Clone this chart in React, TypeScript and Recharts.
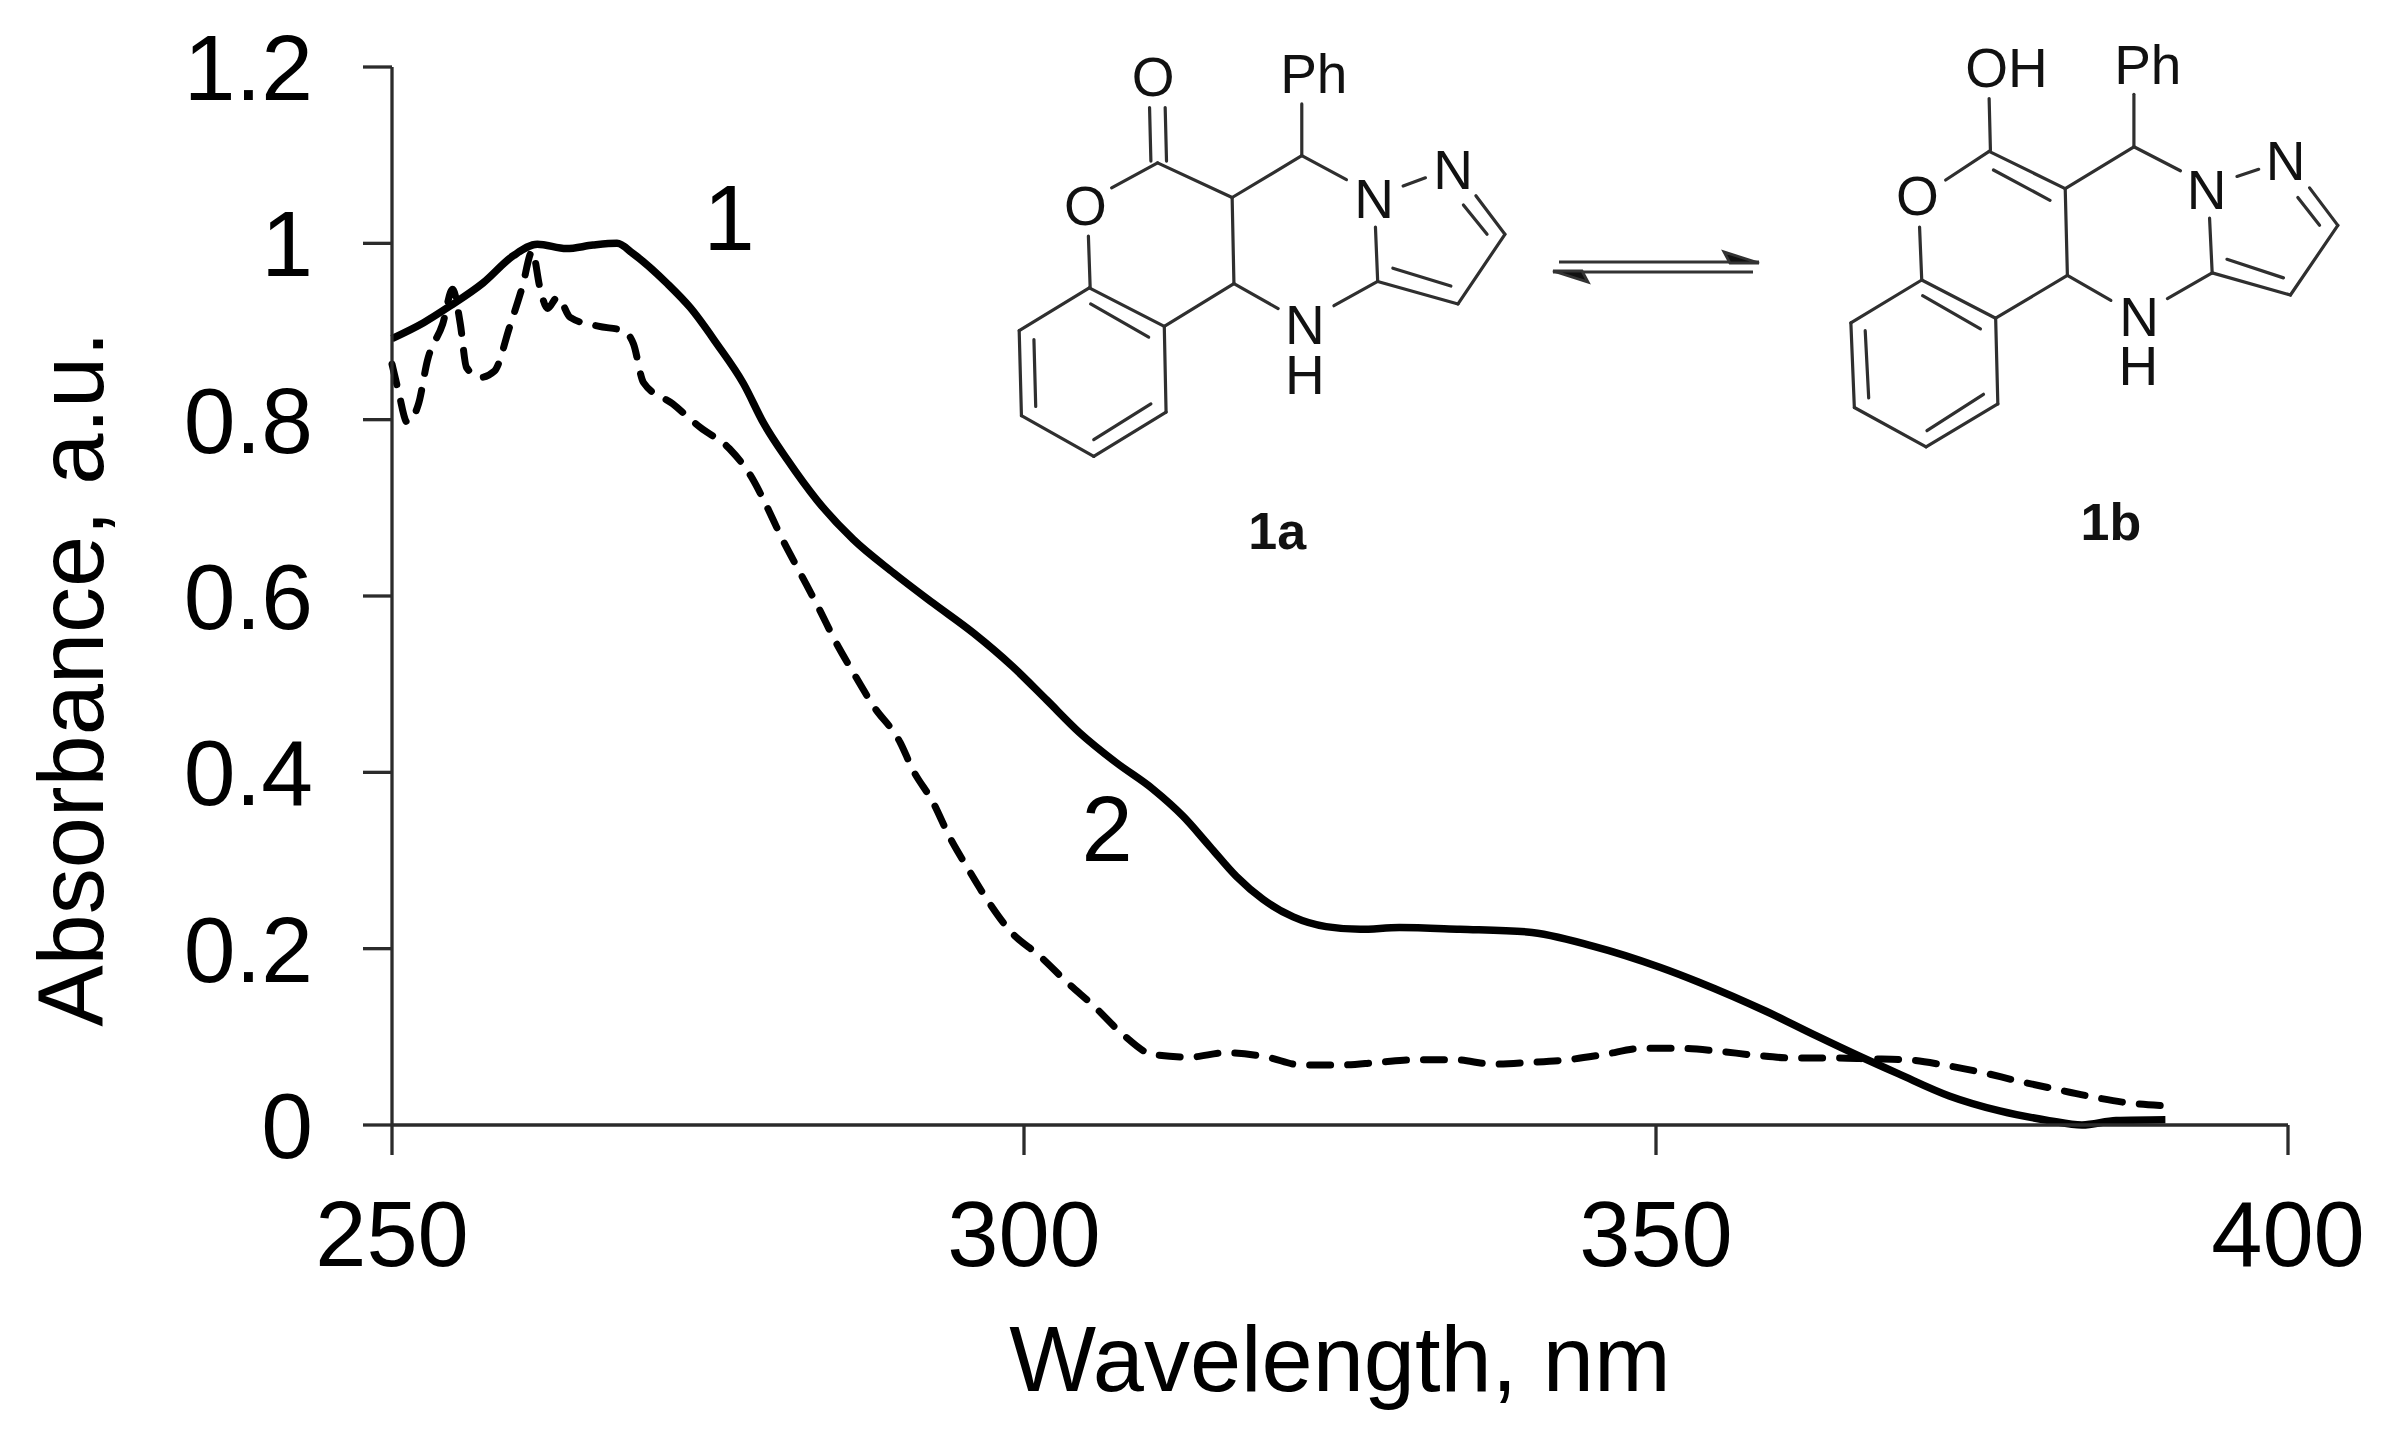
import { LineChart, Line, XAxis, YAxis } from 'recharts'

const FONT = '"Liberation Sans", Arial, sans-serif'
const INK = '#000000'
const AXIS_INK = '#2b2b2b'

const xTicks = [250, 300, 350, 400]
const yTicks = [0, 0.2, 0.4, 0.6, 0.8, 1, 1.2]

// curve 1
const solidWavelength = [250, 252.5, 254.6, 257.2, 259.6, 261.5, 263.8, 265.9, 267.8, 269.1, 271.8, 273.6, 275.7, 277.8, 279.4, 281.3, 283.6, 286.5, 289.7, 292.8, 296, 299.1, 301.8, 304.4, 307.3, 310.2, 312.6, 314.7, 316.8, 318.9, 321.3, 323.9, 326.6, 329.7, 334.5, 339.8, 345, 350.3, 353.4, 358.7, 362.7, 366.1, 369.2, 373.2, 377.2, 381.1, 383.7, 386.4, 390.3]
const solidAbsorbance = [0.892, 0.91, 0.929, 0.955, 0.986, 0.999, 0.994, 0.998, 1, 0.988, 0.954, 0.927, 0.886, 0.841, 0.796, 0.754, 0.709, 0.664, 0.626, 0.592, 0.558, 0.52, 0.482, 0.445, 0.411, 0.381, 0.35, 0.316, 0.282, 0.256, 0.236, 0.225, 0.222, 0.224, 0.222, 0.219, 0.203, 0.179, 0.162, 0.129, 0.101, 0.078, 0.058, 0.033, 0.016, 0.005, 0, 0.005, 0.006]

// curve 2
const dashedWavelength = [250, 250.5, 251.2, 252.1, 252.8, 254, 254.8, 255.4, 255.9, 257, 258.1, 259.3, 260.3, 261.1, 261.7, 262.3, 263.1, 264.1, 266.3, 268.3, 269.1, 269.9, 272.2, 274.4, 276.7, 278.6, 279.4, 280.9, 282.3, 283.7, 285.1, 286.5, 288.1, 290.2, 291.2, 292.8, 294.1, 295.6, 297.2, 298.9, 301.3, 303.4, 305.6, 307.8, 310.2, 313.1, 316, 319.2, 322, 325, 328, 331, 334.1, 337.1, 340, 343, 345.9, 348.9, 351.9, 354.8, 357.9, 360.8, 363.9, 366.9, 369.8, 372.8, 375.7, 378.6, 381.5, 384.5, 387.4, 390]
const dashedAbsorbance = [0.863, 0.833, 0.797, 0.818, 0.867, 0.908, 0.948, 0.909, 0.859, 0.848, 0.855, 0.905, 0.95, 0.991, 0.95, 0.926, 0.939, 0.916, 0.906, 0.901, 0.886, 0.842, 0.818, 0.791, 0.767, 0.731, 0.709, 0.664, 0.626, 0.588, 0.548, 0.513, 0.475, 0.434, 0.403, 0.366, 0.327, 0.29, 0.253, 0.22, 0.191, 0.162, 0.134, 0.103, 0.08, 0.077, 0.082, 0.077, 0.068, 0.068, 0.071, 0.074, 0.074, 0.069, 0.071, 0.074, 0.08, 0.087, 0.087, 0.084, 0.079, 0.076, 0.076, 0.075, 0.074, 0.068, 0.06, 0.05, 0.041, 0.032, 0.025, 0.022]

const solidData = solidWavelength.map((wavelength, i) => ({ wavelength, absorbance: solidAbsorbance[i] }))
const dashedData = dashedWavelength.map((wavelength, i) => ({ wavelength, absorbance: dashedAbsorbance[i] }))

// structure drawings: segments in the coordinates of a 1568 px crop of each scheme
type Seg = [number, number, number, number]
type Atom = [string, number, number]

const bonds1a: Seg[] = [
  [312, 750, 155, 870], [155, 870, 160, 1108], [160, 1108, 322, 1222], [322, 1222, 484, 1098],
  [484, 1098, 480, 858], [480, 858, 312, 750], [188, 895, 192, 1082], [322, 1175, 450, 1075],
  [315, 795, 445, 888], [310, 605, 314, 750], [362, 470, 465, 400], [447, 245, 450, 395],
  [482, 245, 485, 395], [465, 400, 632, 497], [632, 497, 788, 380], [788, 380, 788, 235],
  [788, 380, 888, 447], [632, 497, 636, 738], [636, 738, 480, 858], [636, 738, 735, 808],
  [860, 800, 958, 732], [958, 732, 953, 580], [958, 732, 1138, 795], [992, 695, 1122, 745],
  [1138, 795, 1243, 600], [1243, 600, 1178, 492], [1203, 600, 1150, 518], [1015, 465, 1065, 442],
]
const atoms1a: Atom[] = [
  ['O', 455, 160], ['Ph', 815, 150], ['O', 303, 520], ['N', 950, 500],
  ['N', 1127, 420], ['N', 795, 855], ['H', 795, 995],
]

const bonds1b: Seg[] = [
  [510, 728, 347, 848], [347, 848, 355, 1085], [355, 1085, 520, 1195], [520, 1195, 685, 1075],
  [685, 1075, 680, 835], [680, 835, 510, 728], [380, 870, 388, 1058], [522, 1150, 652, 1048],
  [512, 772, 645, 865], [505, 580, 510, 728], [565, 448, 665, 368], [665, 220, 668, 365],
  [665, 368, 840, 472], [675, 420, 805, 505], [840, 472, 998, 355], [998, 355, 998, 208],
  [998, 355, 1105, 422], [840, 472, 845, 715], [845, 715, 680, 835], [845, 715, 945, 785],
  [1075, 780, 1178, 708], [1178, 708, 1172, 555], [1178, 708, 1358, 770], [1212, 670, 1342, 722],
  [1358, 770, 1467, 575], [1467, 575, 1402, 470], [1425, 575, 1375, 497], [1235, 438, 1285, 418],
]
const atoms1b: Atom[] = [
  ['OH', 705, 135], ['Ph', 1030, 125], ['O', 500, 492], ['N', 1165, 475],
  ['N', 1347, 395], ['N', 1010, 832], ['H', 1008, 970],
]

function Structure({ bonds, atoms, name, nameAt, x0, kx }: { bonds: Seg[]; atoms: Atom[]; name: string; nameAt: [number, number]; x0: number; kx: number }) {
  const px = (x: number) => x0 + x / kx
  const py = (y: number) => 20 + y / 2.8
  return (
    <g>
      {bonds.map(([a, b, c, d], i) => (
        <line key={i} x1={px(a)} y1={py(b)} x2={px(c)} y2={py(d)} stroke="#2f2f2f" strokeWidth={3.2} strokeLinecap="round" />
      ))}
      {atoms.map(([label, x, y], i) => (
        <text key={i} x={px(x)} y={py(y)} textAnchor="middle" dominantBaseline="central" fontSize={55} fontFamily={FONT} fill="#111">
          {label}
        </text>
      ))}
      <text x={px(nameAt[0])} y={py(nameAt[1])} textAnchor="middle" dominantBaseline="central" fontSize={52} fontWeight="bold" fontFamily={FONT} fill="#111">
        {name}
      </text>
    </g>
  )
}

export default function App() {
  return (
    <div style={{ position: 'absolute', left: 0, top: 0, width: 2381, height: 1430, background: '#fff' }}>
      <LineChart width={2381} height={1430} margin={{ top: 67, right: 93, bottom: 0, left: 0 }}>
        <XAxis
          type="number"
          dataKey="wavelength"
          domain={[250, 400]}
          ticks={xTicks}
          height={305}
          tickSize={30}
          tickMargin={46}
          interval={0}
          stroke={AXIS_INK}
          strokeWidth={3.3}
          tick={{ fontSize: 92, fontFamily: FONT, fill: INK }}
          label={{ value: 'Wavelength, nm', position: 'insideBottom', offset: 39, fontSize: 92, fontFamily: FONT, fill: INK }}
        />
        <YAxis
          type="number"
          domain={[0, 1.2]}
          ticks={yTicks}
          width={392}
          tickSize={29}
          tickMargin={50}
          interval={0}
          stroke={AXIS_INK}
          strokeWidth={3.3}
          tick={{ fontSize: 93, fontFamily: FONT, fill: INK }}
          label={{ value: 'Absorbance, a.u.', angle: -90, position: 'insideLeft', offset: 70, dy: 83, textAnchor: 'middle', fontSize: 92, fontFamily: FONT, fill: INK }}
        />
        <Line data={solidData} dataKey="absorbance" type="monotone" stroke={INK} strokeWidth={7.5} dot={false} isAnimationActive={false} />
        <Line data={dashedData} dataKey="absorbance" type="monotone" stroke={INK} strokeWidth={7} strokeLinecap="round" strokeDasharray="21 17" dot={false} isAnimationActive={false} />
      </LineChart>
      <svg width={2381} height={1430} style={{ position: 'absolute', left: 0, top: 0, pointerEvents: 'none' }}>
        <text x={729} y={218} textAnchor="middle" dominantBaseline="central" fontSize={92} fontFamily={FONT} fill={INK}>1</text>
        <text x={1107} y={829} textAnchor="middle" dominantBaseline="central" fontSize={92} fontFamily={FONT} fill={INK}>2</text>
        <Structure bonds={bonds1a} atoms={atoms1a} name="1a" nameAt={[733, 1430]} x0={950} kx={2.24} />
        <Structure bonds={bonds1b} atoms={atoms1b} name="1b" nameAt={[945, 1405]} x0={1700} kx={2.3} />
        {/* equilibrium arrows */}
        <g stroke="#333" strokeWidth={2.8} fill="#111">
          <line x1={1559} y1={262} x2={1759} y2={262} />
          <line x1={1553} y1={272} x2={1753} y2={272} />
          <path d="M1553 271 L1588 282 L1582 271 Z" />
          <path d="M1759 263 L1724 252 L1730 263 Z" />
        </g>
      </svg>
    </div>
  )
}
